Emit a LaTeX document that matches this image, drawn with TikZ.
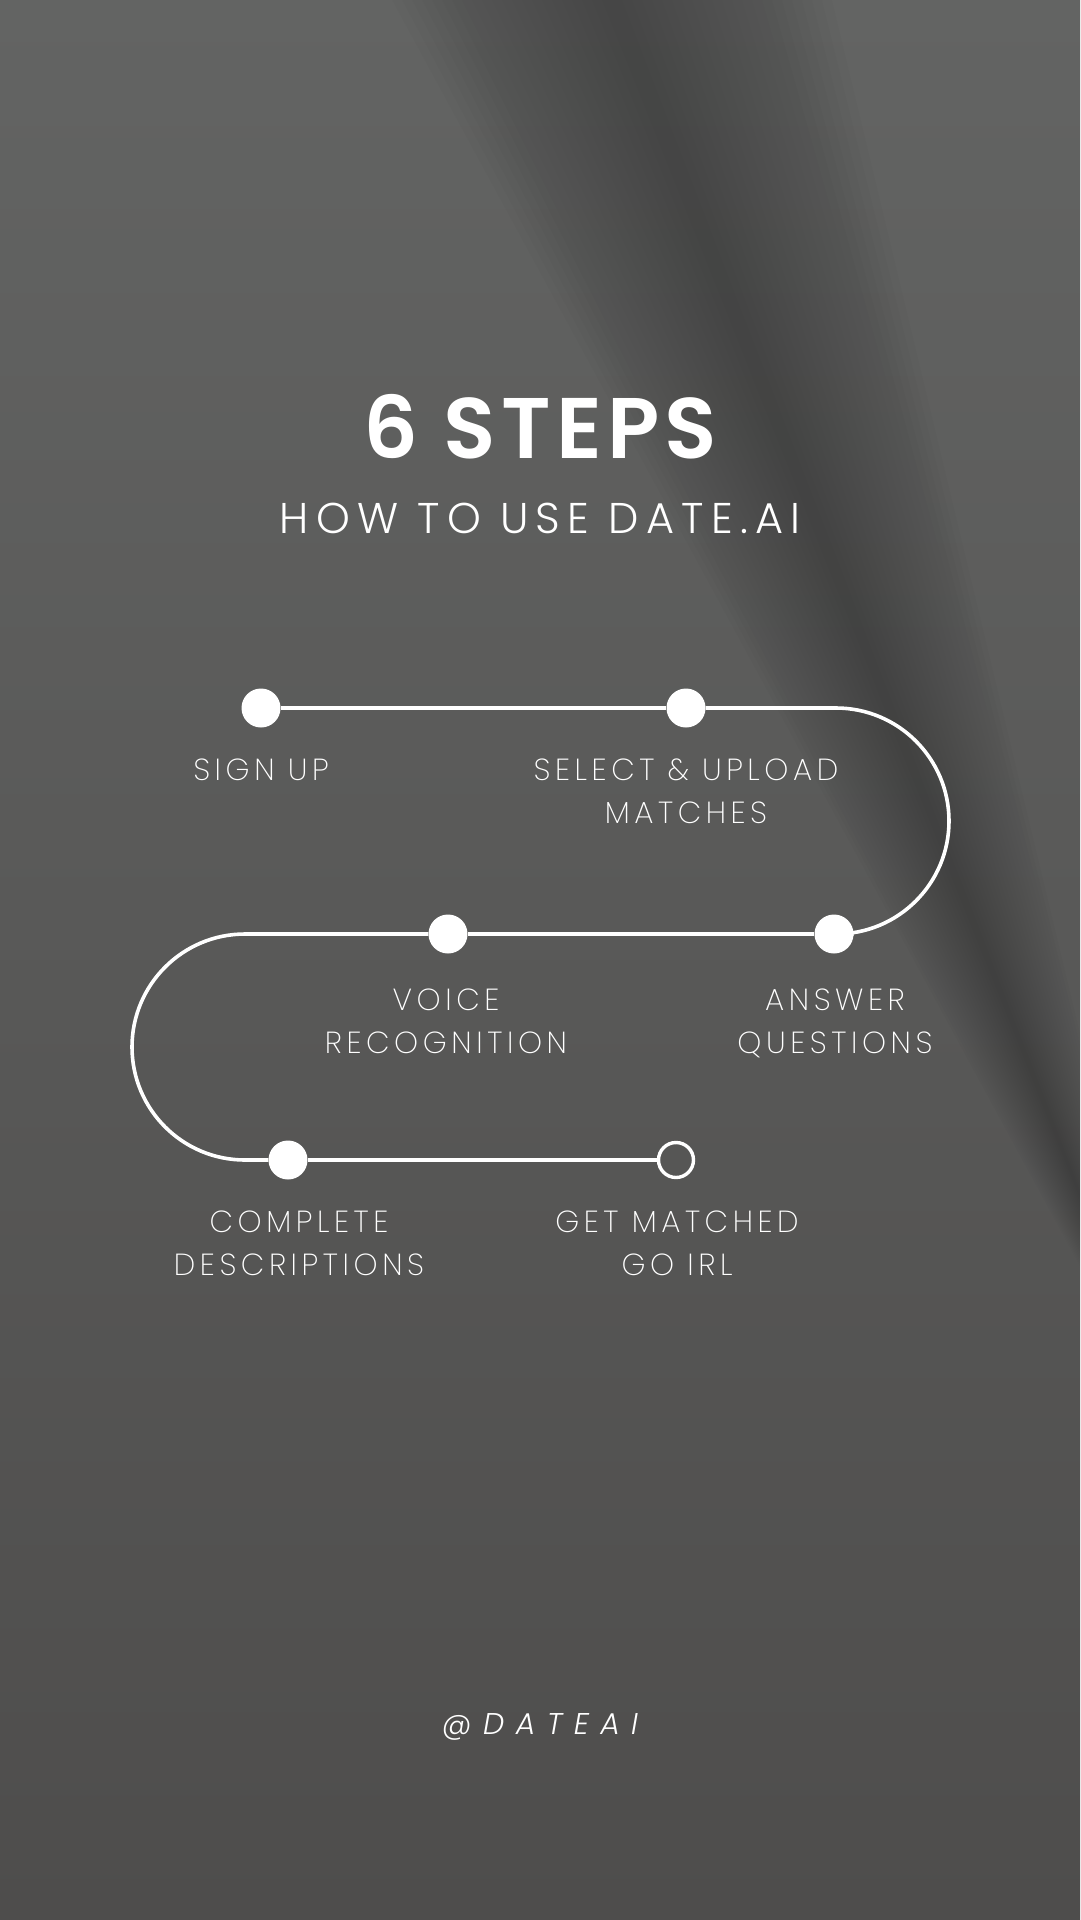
\documentclass[tikz,border=0pt]{standalone}
\usepackage{fontspec}
\setmainfont{Poppins}
\usepackage{tikz}
\usetikzlibrary{positioning, backgrounds}
\newfontfamily\titlefont{Poppins SemiBold}[LetterSpace=6]
\newfontfamily\subfont{Poppins Light}[LetterSpace=17]
\newfontfamily\stepfont{Poppins ExtraLight}[LetterSpace=15]
\newfontfamily\handlefont{Poppins Light Italic}[LetterSpace=38]
\definecolor{bgtop}{RGB}{99,100,99}
\definecolor{bgmid}{RGB}{94,94,93}
\definecolor{bgbot}{RGB}{78,77,76}

\begin{document}
\begin{tikzpicture}[x=1pt, y=-1pt,
  dot/.style={circle, fill=white, minimum size=39pt, inner sep=0pt},
  enddot/.style={circle, draw=white, line width=3.4pt, minimum size=35pt, inner sep=0pt},
  track/.style={white, line width=3.6pt},
  steplbl/.style={text=white, anchor=north, align=center, inner sep=0pt, font=\stepfont\fontsize{30.5}{43}\selectfont}
]
\useasboundingbox (0,0) rectangle (1080,1920);

% heading
\node[anchor=base, text=white, font=\titlefont\fontsize{86}{86}\selectfont] (title) at (540,458) {6 STEPS};
\node[anchor=base, text=white, font=\subfont\fontsize{43}{43}\selectfont] (sub) at (540,533) {HOW TO USE DATE.AI};

% steps
\node[dot] (s1) at (261,708) {};
\node[dot] (s2) at (686,708) {};
\node[dot] (s3) at (834,934) {};
\node[dot] (s4) at (448,934) {};
\node[dot] (s5) at (288,1160) {};
\node[enddot] (s6) at (676,1160) {};

\coordinate (tr) at (836,708);
\coordinate (ml) at (245,934);

\begin{scope}[on background layer]
\shade[top color=bgtop, middle color=bgmid, bottom color=bgbot] (0,0) rectangle (1080,1920);
% soft shadow band
\begin{scope}
\clip (0,0) rectangle (1080,1920);
\foreach \w in {10,20,...,220}
  \fill[black, opacity=0.011] (612-\w,0) -- (612+\w,0) -- (1180,1450) -- cycle;
\end{scope}
\draw[track] (s1) -- (s2);
\draw[track] (s2) -- (tr) arc[start angle=-90, end angle=90, radius=113] -- (s3);
\draw[track] (s3) -- (s4);
\draw[track] (s4) -- (ml) arc[start angle=-90, end angle=-270, radius=113] -- (s5);
\draw[track] (s5) -- (s6);
\end{scope}

\node[steplbl] (l1) at (261,759) {SIGN UP};
\node[steplbl] (l2) at (686,759) {SELECT \& UPLOAD\\MATCHES};
\node[steplbl] (l3) at (835,989) {ANSWER\\QUESTIONS};
\node[steplbl] (l4) at (446,989) {VOICE\\RECOGNITION};
\node[steplbl] (l5) at (299,1211) {COMPLETE\\DESCRIPTIONS};
\node[steplbl] (l6) at (677,1211) {GET MATCHED\\GO IRL};

\node[anchor=base, text=white, font=\handlefont\fontsize{30}{30}\selectfont] (handle) at (540,1734) {@DATEAI};
\end{tikzpicture}
\end{document}
